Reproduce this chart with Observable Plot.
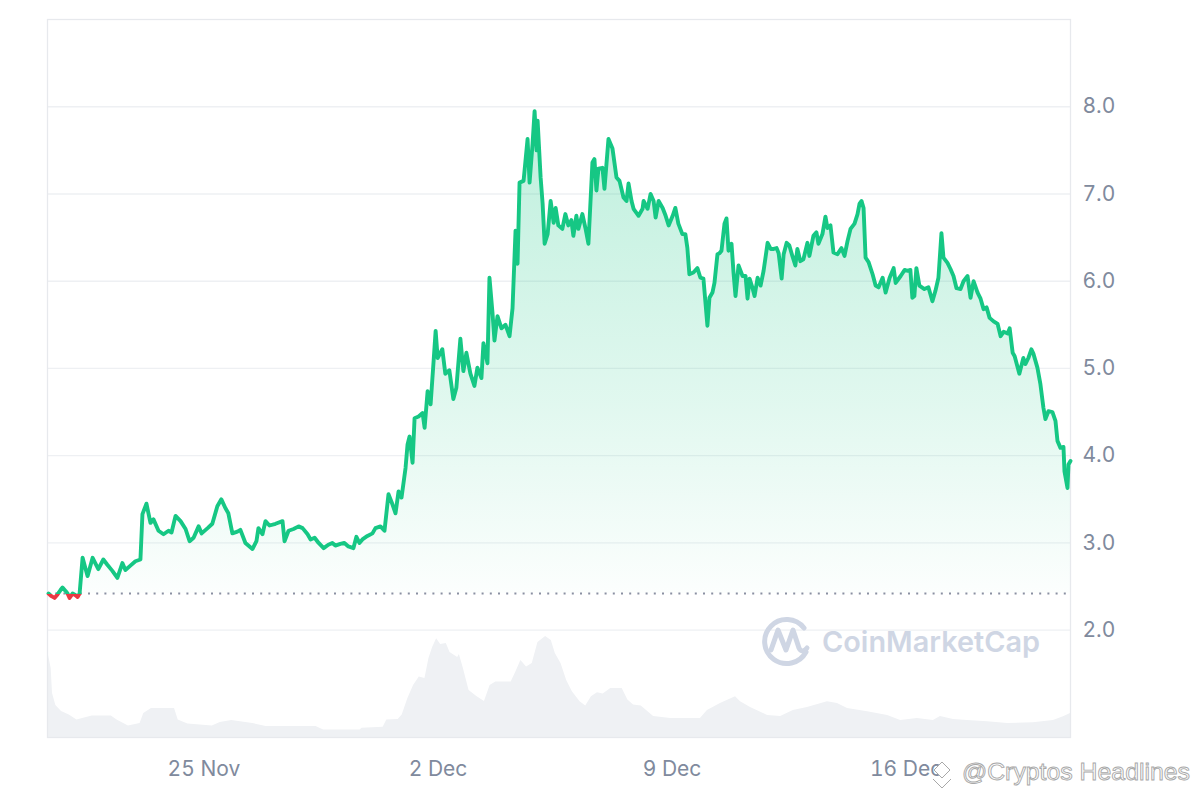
<!DOCTYPE html>
<html><head><meta charset="utf-8">
<script src="https://cdn.jsdelivr.net/npm/d3@7"></script>
<script src="https://cdn.jsdelivr.net/npm/@observablehq/plot@0.6"></script>
<style>
html,body{margin:0;padding:0;background:#fff;}
#wrap{position:relative;width:1200px;height:800px;overflow:hidden;}
#wrap > svg{position:absolute;left:0;top:0;}
</style></head><body>
<div id="wrap"></div>
<script>
// ---- data ----
const startDate = Date.UTC(2024, 10, 20); // day offsets below are counted from 20 Nov 00:00 UTC
const domainDays = [0.32, 30.92];
const baseline = 2.42;
const yTicks = [2, 3, 4, 5, 6, 7, 8];
const xTickDates = ["2024-11-25", "2024-12-02", "2024-12-09", "2024-12-16"];

const priceDay = [
0.35,0.44,0.53,0.62,0.71,0.77,0.86,0.92,0.98,1.07,
1.16,1.22,1.28,1.37,1.46,1.52,1.67,1.76,1.84,1.99,
2.11,2.26,2.41,2.56,2.65,2.80,2.95,3.10,3.16,3.28,
3.40,3.49,3.64,3.79,3.94,4.03,4.15,4.30,4.45,4.57,
4.69,4.84,4.93,5.11,5.25,5.40,5.52,5.64,5.73,5.85,
6.00,6.09,6.24,6.45,6.57,6.63,6.75,6.84,6.96,7.14,
7.35,7.41,7.53,7.68,7.83,7.95,8.10,8.19,8.31,8.43,
8.58,8.72,8.84,8.93,9.08,9.20,9.32,9.47,9.56,9.65,
9.74,9.89,10.04,10.13,10.28,10.40,10.52,10.64,10.73,10.82,
10.91,11.03,11.09,11.15,11.24,11.30,11.42,11.54,11.60,11.69,
11.78,11.87,11.93,11.99,12.13,12.22,12.34,12.46,12.55,12.67,
12.76,12.85,12.97,13.09,13.18,13.30,13.36,13.48,13.54,13.63,
13.69,13.78,13.90,14.02,14.14,14.23,14.32,14.38,14.44,14.56,
14.68,14.74,14.83,14.89,14.95,14.98,15.07,15.13,15.19,15.28,
15.37,15.46,15.52,15.60,15.72,15.81,15.90,15.99,16.05,16.14,
16.20,16.32,16.41,16.50,16.62,16.68,16.74,16.80,16.92,16.98,
17.10,17.22,17.34,17.43,17.55,17.64,17.70,17.79,17.85,18.00,
18.12,18.15,18.27,18.36,18.45,18.51,18.60,18.72,18.81,18.90,
19.02,19.10,19.19,19.31,19.40,19.46,19.52,19.64,19.76,19.85,
19.94,20.06,20.12,20.21,20.27,20.36,20.42,20.48,20.57,20.63,
20.69,20.78,20.84,20.90,20.99,21.11,21.20,21.26,21.32,21.41,
21.47,21.56,21.65,21.74,21.86,21.95,22.04,22.13,22.19,22.28,
22.34,22.43,22.51,22.60,22.69,22.75,22.84,22.93,23.05,23.11,
23.23,23.32,23.38,23.50,23.59,23.65,23.74,23.83,23.95,24.07,
24.16,24.25,24.34,24.46,24.55,24.61,24.67,24.73,24.79,24.88,
25.00,25.09,25.18,25.30,25.39,25.51,25.63,25.69,25.84,25.96,
26.04,26.13,26.19,26.25,26.31,26.40,26.55,26.67,26.79,26.88,
26.97,27.06,27.12,27.24,27.33,27.42,27.51,27.63,27.72,27.84,
27.93,28.02,28.14,28.23,28.32,28.41,28.50,28.62,28.74,28.83,
28.92,29.04,29.10,29.19,29.25,29.34,29.39,29.51,29.57,29.66,
29.75,29.81,29.93,30.02,30.11,30.17,30.26,30.38,30.47,30.53,
30.62,30.71,30.74,30.83,30.86,30.92];

const priceValue = [
2.42,2.39,2.37,2.41,2.46,2.49,2.45,2.42,2.37,2.42,
2.40,2.38,2.42,2.83,2.70,2.62,2.83,2.76,2.70,2.81,
2.75,2.68,2.60,2.77,2.69,2.74,2.79,2.81,3.33,3.45,
3.23,3.27,3.14,3.10,3.14,3.12,3.31,3.25,3.16,3.02,
3.06,3.19,3.11,3.17,3.22,3.42,3.50,3.40,3.34,3.11,
3.13,3.15,3.00,2.93,3.02,3.17,3.10,3.25,3.20,3.22,
3.25,3.02,3.14,3.16,3.19,3.17,3.10,3.04,3.06,3.00,
2.94,2.98,3.00,2.97,2.99,3.00,2.96,2.94,3.07,3.00,
3.04,3.08,3.11,3.17,3.19,3.14,3.56,3.44,3.34,3.59,
3.52,3.86,4.13,4.22,3.92,4.43,4.45,4.49,4.32,4.74,
4.59,5.09,5.43,5.12,5.22,4.94,4.98,4.65,4.78,5.34,
4.97,5.18,4.94,4.80,5.01,4.89,5.29,5.06,6.04,5.64,
5.32,5.60,5.46,5.50,5.37,5.69,6.58,6.20,7.13,7.15,
7.63,7.13,7.58,7.95,7.50,7.84,7.19,6.89,6.43,6.54,
6.92,6.67,6.84,6.64,6.60,6.77,6.64,6.70,6.52,6.75,
6.60,6.77,6.61,6.43,7.36,7.40,7.04,7.29,7.30,7.06,
7.63,7.52,7.19,7.15,6.96,6.92,7.12,6.92,6.83,6.75,
6.83,6.92,6.83,7.00,6.92,6.73,6.92,6.84,6.75,6.64,
6.75,6.84,6.66,6.54,6.54,6.38,6.08,6.10,6.15,6.04,
6.03,5.49,5.81,5.87,5.98,6.31,6.32,6.35,6.66,6.72,
6.35,6.43,6.10,5.83,6.18,6.06,6.06,5.80,6.03,5.92,
5.83,6.04,5.95,6.12,6.44,6.37,6.37,6.38,6.32,6.03,
6.31,6.44,6.41,6.29,6.18,6.37,6.23,6.25,6.44,6.29,
6.52,6.56,6.43,6.54,6.74,6.61,6.64,6.33,6.31,6.38,
6.29,6.46,6.60,6.66,6.77,6.89,6.92,6.84,6.27,6.22,
6.08,5.95,5.93,6.04,5.87,6.04,6.15,5.98,6.06,6.13,
6.12,6.13,5.81,5.83,6.15,5.95,5.91,5.93,5.77,5.89,
6.04,6.55,6.27,6.21,6.14,6.06,5.92,5.91,6.00,6.06,
5.81,6.00,5.87,5.80,5.68,5.70,5.58,5.54,5.51,5.37,
5.42,5.40,5.46,5.18,5.14,5.01,4.94,5.12,5.05,5.12,
5.22,5.17,5.01,4.82,4.55,4.42,4.51,4.50,4.40,4.17,
4.09,4.10,3.82,3.63,3.90,3.94];

const volumeDay = [
0.32,0.43,0.47,0.57,0.74,0.97,1.20,1.37,1.66,2.23,
2.40,2.74,3.09,3.20,3.43,4.12,4.23,4.52,5.25,5.49,
5.83,6.46,6.86,8.35,8.58,9.67,9.73,10.36,10.47,10.81,
10.93,11.10,11.27,11.44,11.61,11.73,11.84,11.96,12.08,12.25,
12.36,12.59,12.64,12.76,12.93,13.16,13.39,13.56,13.73,14.19,
14.31,14.48,14.65,14.82,14.99,15.22,15.39,15.51,15.68,15.85,
16.02,16.25,16.42,16.59,16.77,16.94,17.17,17.51,17.68,17.85,
18.08,18.45,18.96,19.85,20.06,20.45,20.90,21.05,21.35,21.86,
22.25,22.63,23.05,23.65,23.95,24.25,24.85,25.45,25.84,26.34,
26.82,27.03,27.42,27.84,28.44,29.04,29.81,30.41,30.71,30.92];

const volumeValue = [
87,69,44,32,26,22.5,17.5,19,21.5,21.5,
17.5,11.6,14,24,29,29,17.5,13.6,11.6,15,
17,14,11,11,7.6,7.6,9.3,10.3,17.5,18,
22.5,39,52,60.6,59,79,90,98.7,93,94,
85,80,83,69,47,41,36,52,55.6,55.6,
64,77,70.5,74,95,101,97,84,74,57,
45.7,35.8,31.5,40.7,44.7,43.4,49,49,37.4,32.5,
31.5,21,19,19,27,34,40.7,35.7,30,22,
21,27,30,35.7,34,29,25.7,22,17,19,
17,21,18,17,15.7,14,14.7,17,20.7,24];

// ---- build tables ----
const toDate = d => new Date(startDate + d * 864e5);
const price = priceDay.map((d, i) => ({date: toDate(d), price: priceValue[i]}));
const volume = volumeDay.map((d, i) => ({date: toDate(d), vol: volumeValue[i]}));
const xDomain = domainDays.map(toDate);
const xTicks = xTickDates.map(s => new Date(s + "T00:00:00Z"));

const W = 1200, H = 800, mL = 47, mR = 130, mT = 19, mB = 63;
const green = "#16c784", red = "#ea3943";

// gradient defs
const NS = "http://www.w3.org/2000/svg";
const defsSvg = document.createElementNS(NS, "svg");
defsSvg.setAttribute("width", 0); defsSvg.setAttribute("height", 0);
const maxP = d3.max(priceValue), minP = d3.min(priceValue);
const cut = (maxP - baseline) / (maxP - minP);
defsSvg.innerHTML = `<defs>
<linearGradient id="priceFill" x1="0" y1="0" x2="0" y2="1">
  <stop offset="0" stop-color="${green}" stop-opacity="0.28"/>
  <stop offset="0.6" stop-color="${green}" stop-opacity="0.13"/>
  <stop offset="1" stop-color="${green}" stop-opacity="0.01"/>
</linearGradient>
<linearGradient id="priceStroke" x1="0" y1="0" x2="0" y2="1">
  <stop offset="0" stop-color="${green}"/>
  <stop offset="${cut}" stop-color="${green}"/>
  <stop offset="${cut}" stop-color="${red}"/>
  <stop offset="1" stop-color="${red}"/>
</linearGradient></defs>`;

const wrap = document.getElementById("wrap");
wrap.appendChild(defsSvg);

// volume layer (own scale, occupying the bottom band of the frame)
const volPlot = Plot.plot({
  width: W, height: H,
  marginLeft: mL, marginRight: mR, marginTop: H - mB - 130, marginBottom: mB,
  x: {type: "utc", domain: xDomain, axis: null},
  y: {domain: [0, 130], axis: null},
  style: {background: "transparent"},
  marks: [
    Plot.areaY(volume, {x: "date", y: "vol", fill: "#eff1f4", curve: "linear"})
  ]
});
wrap.appendChild(volPlot);

// price layer
const mainPlot = Plot.plot({
  width: W, height: H,
  marginLeft: mL, marginRight: mR, marginTop: mT, marginBottom: mB,
  x: {type: "utc", domain: xDomain, label: null},
  y: {domain: [0.77, 9.0], label: null},
  style: {background: "transparent", fontFamily: "Inter, 'Noto Sans', sans-serif", fontSize: "21px", color: "#808a9d", overflow: "visible"},
  marks: [
    Plot.gridY(yTicks, {stroke: "#eef0f3", strokeOpacity: 1, strokeWidth: 1.3}),
    Plot.frame({stroke: "#e7e9ed", strokeWidth: 1.3}),
    Plot.areaY(price, {x: "date", y1: () => baseline, y2: "price", fill: "url(#priceFill)"}),
    Plot.ruleY([baseline], {stroke: "#8a90a2", strokeWidth: 2, strokeDasharray: "2,6.2"}),
    Plot.lineY(price, {x: "date", y: "price", stroke: "url(#priceStroke)", strokeWidth: 3.9, strokeLinejoin: "round", strokeLinecap: "round"}),
    Plot.axisY(yTicks, {anchor: "right", label: null, tickSize: 0, tickPadding: 12, fontSize: 21, tickFormat: d => d.toFixed(1)}),
    Plot.axisX(xTicks, {anchor: "bottom", label: null, tickSize: 0, tickPadding: 24, fontSize: 21, tickFormat: d3.utcFormat("%-d %b")})
  ]
});
wrap.appendChild(mainPlot);

// watermarks
const wm = document.createElementNS(NS, "svg");
wm.setAttribute("width", W); wm.setAttribute("height", H);
wm.style.pointerEvents = "none";
wm.innerHTML = `
<g fill="none" stroke="#cfd6e4" stroke-width="5" stroke-linecap="round" stroke-linejoin="round">
  <path d="M 804 628 A 22 22 0 1 0 806 652"/>
  <path d="M 771 650 L 778 630 L 786 650 L 793 630 L 799 648 Q 802 654 807 648"/>
</g>
<text x="822" y="652" font-family="Inter, sans-serif" font-weight="600" font-size="29" fill="#cfd6e4" textLength="218" lengthAdjust="spacingAndGlyphs">CoinMarketCap</text>
<g fill="#fff" stroke="#a8a8a8" stroke-width="1">
  <path d="M 942 762 L 950 770 L 942 778 L 934 770 Z"/>
  <path d="M 933 779 L 942 788 L 951 779"/>
</g>
<text x="962" y="780" font-family="'Liberation Sans', Arial, sans-serif" font-size="24" fill="#fff" stroke="#a8a8a8" stroke-width="0.9" textLength="228" lengthAdjust="spacingAndGlyphs">@Cryptos Headlines</text>`;
wrap.appendChild(wm);
</script>
</body></html>
